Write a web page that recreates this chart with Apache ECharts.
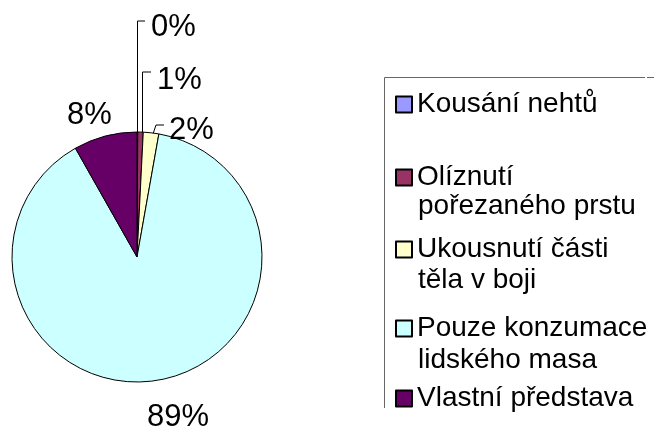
<!DOCTYPE html>
<html>
<head>
<meta charset="utf-8">
<script src="https://cdn.jsdelivr.net/npm/echarts@6/dist/echarts.min.js"></script>
<style>
html,body{margin:0;padding:0;background:#fff;}
#main{width:654px;height:434px;}
</style>
</head>
<body>
<div id="main"></div>
<script>
// data
var categories = ['Kousání nehtů', 'Olíznutí pořezaného prstu', 'Ukousnutí části těla v boji', 'Pouze konzumace lidského masa', 'Vlastní představa'];
var values = [0.1, 0.7, 2.0, 89.0, 8.2];
var colors = ['#9999FF', '#993366', '#FFFFCC', '#CCFFFF', '#660066'];
// legend lines (first line in legend, rest as text)
var legendFirst = ['Kousání nehtů', 'Olíznutí', 'Ukousnutí části', 'Pouze konzumace', 'Vlastní představa'];
var legendSecond = ['', 'pořezaného prstu', 'těla v boji', 'lidského masa', ''];

var FONT = 'Arial, "Liberation Sans", sans-serif';
var legendTop = [89, 162, 234, 313, 383];
var secondY = [0, 208, 282, 362, 0];

// label placement like the original
var labelPos = [
    {x: 151, y: 27, line: [[137.5, 132], [137.5, 21], [145, 21]]},
    {x: 157, y: 80, line: [[142.5, 133], [142.5, 72], [151, 72]]},
    {x: 169, y: 130, line: [[153, 134], [156, 125], [164, 125]]},
    {x: 147, y: 417, line: null},
    {x: 67, y: 115, line: null}
];

var myChart = echarts.init(document.getElementById('main'), null, {renderer: 'canvas'});

var legends = [];
var graphics = [];
for (var n = 0; n < categories.length; n++) {
    (function (idx) {
        legends.push({
            data: [categories[idx]],
            left: 395,
            top: legendTop[idx],
            padding: 0,
            orient: 'vertical',
            icon: 'rect',
            itemWidth: 16,
            itemHeight: 16,
            selectedMode: false,
            textStyle: {fontSize: 28, fontFamily: FONT, color: '#000', lineHeight: 31},
            formatter: function () { return legendFirst[idx]; }
        });
        if (legendSecond[idx]) {
            graphics.push({
                type: 'text',
                left: 418,
                top: secondY[idx] - 16,
                style: {text: legendSecond[idx], font: '28px ' + FONT, fill: '#000'}
            });
        }
    })(n);
}
// legend frame
graphics.push({
    type: 'polyline',
    shape: {points: [[384.5, 408], [384.5, 77.5], [645, 77.5]]},
    style: {stroke: '#666', lineWidth: 1, fill: null}
});
graphics.push({
    type: 'line',
    shape: {x1: 647, y1: 77.5, x2: 654, y2: 77.5},
    style: {stroke: '#666', lineWidth: 1}
});

var pieData = categories.map(function (c, i) {
    return {
        name: c,
        value: values[i],
        itemStyle: {color: colors[i]},
        labelLine: {show: labelPos[i].line !== null}
    };
});

var option = {
    animation: false,
    legend: legends,
    graphic: graphics,
    series: [{
        name: 'podíl',
        type: 'pie',
        center: [137, 257],
        radius: 125,
        startAngle: 90,
        clockwise: true,
        avoidLabelOverlap: false,
        emphasis: {disabled: true},
        itemStyle: {borderColor: '#000', borderWidth: 1},
        label: {
            show: true,
            position: 'outside',
            fontSize: 31,
            fontFamily: FONT,
            color: '#000',
            formatter: function (p) { return Math.round(p.value) + '%'; }
        },
        labelLine: {show: true, lineStyle: {color: '#000', width: 1}},
        labelLayout: function (params) {
            var lp = labelPos[params.dataIndex];
            var r = {x: lp.x, y: lp.y, align: 'left', verticalAlign: 'middle'};
            if (lp.line) r.labelLinePoints = lp.line;
            return r;
        },
        data: pieData
    }]
};
myChart.setOption(option);
</script>
</body>
</html>
